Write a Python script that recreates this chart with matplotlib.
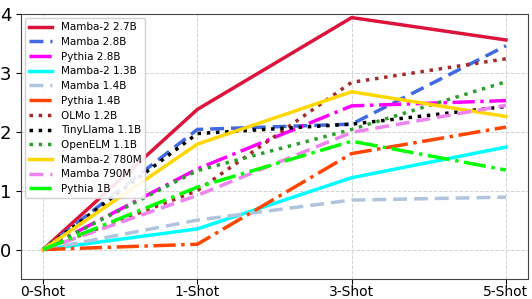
import matplotlib
matplotlib.use("Agg")
import matplotlib.pyplot as plt

shots = ["0-Shot", "1-Shot", "3-Shot", "5-Shot"]

mamba2_2_7b = [0, 2.38, 3.94, 3.56]
mamba_2_8b = [0, 2.04, 2.13, 3.46]
pythia_2_8b = [0, 1.37, 2.44, 2.53]
mamba2_1_3b = [0, 0.35, 1.22, 1.74]
mamba_1_4b = [0, 0.50, 0.84, 0.89]
pythia_1_4b = [0, 0.09, 1.63, 2.08]
olmo_1_2b = [0, 1.00, 2.84, 3.24]
tinyllama_1_1b = [0, 1.97, 2.13, 2.43]
openelm_1_1b = [0, 1.34, 2.04, 2.85]
mamba2_780m = [0, 1.79, 2.68, 2.26]
mamba_790m = [0, 0.92, 1.99, 2.45]
pythia_1b = [0, 1.06, 1.84, 1.35]

series = [
    ("Mamba-2 2.7B", mamba2_2_7b, "crimson", "-"),
    ("Mamba 2.8B", mamba_2_8b, "royalblue", (0, (4, 2))),
    ("Pythia 2.8B", pythia_2_8b, "magenta", "-."),
    ("Mamba-2 1.3B", mamba2_1_3b, "cyan", "-"),
    ("Mamba 1.4B", mamba_1_4b, "lightsteelblue", (0, (4, 2))),
    ("Pythia 1.4B", pythia_1_4b, "orangered", "-."),
    ("OLMo 1.2B", olmo_1_2b, "brown", ":"),
    ("TinyLlama 1.1B", tinyllama_1_1b, "black", ":"),
    ("OpenELM 1.1B", openelm_1_1b, "#2ca02c", ":"),
    ("Mamba-2 780M", mamba2_780m, "gold", "-"),
    ("Mamba 790M", mamba_790m, "violet", (0, (4, 2))),
    ("Pythia 1B", pythia_1b, "lime", "-."),
]

fig = plt.figure(figsize=(5.32, 2.99), dpi=100)
ax = fig.add_axes([0.0395, 0.067, 0.953, 0.886])
x = list(range(len(shots)))
for label, vals, color, ls in series:
    ax.plot(x, vals, label=label, color=color, linestyle=ls, linewidth=2.5)

ax.set_xticks(x)
ax.set_xticklabels(shots, fontsize=10)
ax.tick_params(axis="x", pad=1)
ax.set_yticks([0, 1, 2, 3, 4])
ax.tick_params(axis="y", labelsize=13)
ax.set_xlim(-0.143, 3.143)
ax.set_ylim(-0.5, 4)
ax.grid(True, linestyle="--", color="lightgray", linewidth=0.7)
for s in ax.spines.values():
    s.set_color("#444444")
ax.legend(loc="upper left", fontsize=7.5, framealpha=0.9, handlelength=2.2,
          labelspacing=0.45, borderaxespad=0.4)
fig.savefig("out.png", dpi=100)
